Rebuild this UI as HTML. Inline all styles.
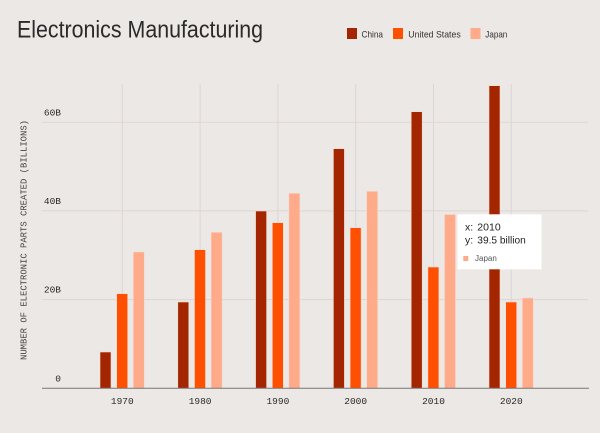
<!DOCTYPE html>
<html>
<head>
<meta charset="utf-8">
<style>
html,body{margin:0;padding:0;background:#ece8e5;}
svg{display:block;}
</style>
</head>
<body>
<svg width="600" height="433" viewBox="0 0 600 433" xmlns="http://www.w3.org/2000/svg">
  <rect x="0" y="0" width="600" height="433" fill="#ece8e5"/>

  <!-- Title -->
  <text x="17" y="37.5" font-family="Liberation Sans, sans-serif" font-size="24" fill="#2a2a2a" textLength="246" lengthAdjust="spacingAndGlyphs">Electronics Manufacturing</text>

  <!-- Legend -->
  <rect x="347" y="28" width="10" height="11" fill="#a32600"/>
  <text x="361.5" y="37.5" font-family="Liberation Sans, sans-serif" font-size="9.5" fill="#333" textLength="21.5" lengthAdjust="spacingAndGlyphs">China</text>
  <rect x="393" y="28" width="10" height="11" fill="#ff4f00"/>
  <text x="408.3" y="37.5" font-family="Liberation Sans, sans-serif" font-size="9.5" fill="#333" textLength="52.4" lengthAdjust="spacingAndGlyphs">United States</text>
  <rect x="470.5" y="28" width="10" height="11" fill="#ffab8a"/>
  <text x="485.3" y="37.5" font-family="Liberation Sans, sans-serif" font-size="9.5" fill="#333" textLength="22" lengthAdjust="spacingAndGlyphs">Japan</text>

  <!-- Vertical gridlines -->
  <g stroke="#ddd6d2" stroke-width="1">
    <line x1="122.3" y1="84" x2="122.3" y2="388"/>
    <line x1="200.1" y1="84" x2="200.1" y2="388"/>
    <line x1="277.9" y1="84" x2="277.9" y2="388"/>
    <line x1="355.7" y1="84" x2="355.7" y2="388"/>
    <line x1="433.5" y1="84" x2="433.5" y2="388"/>
    <line x1="511.3" y1="84" x2="511.3" y2="388"/>
  </g>
  <!-- Horizontal gridlines -->
  <g stroke="#ddd6d2" stroke-width="1">
    <line x1="42" y1="122.3" x2="588" y2="122.3"/>
    <line x1="42" y1="210.9" x2="588" y2="210.9"/>
    <line x1="42" y1="299.6" x2="588" y2="299.6"/>
  </g>

  <!-- Y tick labels -->
  <g font-family="Liberation Mono, monospace" font-size="9.5" fill="#2a2a2a" text-anchor="end">
    <text x="61" y="115.5">60B</text>
    <text x="61" y="204">40B</text>
    <text x="61" y="292.6">20B</text>
    <text x="61" y="381.5">0</text>
  </g>

  <!-- Y axis title -->
  <text transform="translate(26.5,240) rotate(-90)" x="0" y="0" text-anchor="middle" font-family="Liberation Mono, monospace" font-size="8.8" fill="#444" textLength="240" lengthAdjust="spacingAndGlyphs">NUMBER OF ELECTRONIC PARTS CREATED (BILLIONS)</text>

  <!-- Bars -->
  <g stroke="#f3d9cf" stroke-width="0.6">
    <!-- 1970 -->
    <rect x="100" y="352" width="11" height="36.3" fill="#a32600"/>
    <rect x="116.7" y="293.7" width="11" height="94.6" fill="#ff4f00"/>
    <rect x="133.3" y="252" width="11" height="136.3" fill="#ffab8a"/>
    <!-- 1980 -->
    <rect x="177.8" y="302" width="11" height="86.3" fill="#a32600"/>
    <rect x="194.5" y="249.7" width="11" height="138.6" fill="#ff4f00"/>
    <rect x="211.1" y="232.3" width="11" height="156" fill="#ffab8a"/>
    <!-- 1990 -->
    <rect x="255.6" y="211" width="11" height="177.3" fill="#a32600"/>
    <rect x="272.3" y="222.7" width="11" height="165.6" fill="#ff4f00"/>
    <rect x="288.9" y="193.3" width="11" height="195" fill="#ffab8a"/>
    <!-- 2000 -->
    <rect x="333.4" y="148.7" width="11" height="239.6" fill="#a32600"/>
    <rect x="350.1" y="227.7" width="11" height="160.6" fill="#ff4f00"/>
    <rect x="366.7" y="191.3" width="11" height="197" fill="#ffab8a"/>
    <!-- 2010 -->
    <rect x="411.2" y="111.7" width="11" height="276.6" fill="#a32600"/>
    <rect x="427.9" y="267" width="11" height="121.3" fill="#ff4f00"/>
    <rect x="444.5" y="214.5" width="11" height="173.8" fill="#ffab8a"/>
    <!-- 2020 -->
    <rect x="489" y="85.7" width="11" height="302.6" fill="#a32600"/>
    <rect x="505.7" y="302" width="11" height="86.3" fill="#ff4f00"/>
    <rect x="522.3" y="298" width="11" height="90.3" fill="#ffab8a"/>
  </g>

  <!-- Axis line -->
  <line x1="42" y1="388.3" x2="589" y2="388.3" stroke="#7a7674" stroke-width="1"/>

  <!-- X labels -->
  <g font-family="Liberation Mono, monospace" font-size="9.5" fill="#2a2a2a" text-anchor="middle">
    <text x="122.3" y="404">1970</text>
    <text x="200.1" y="404">1980</text>
    <text x="277.9" y="404">1990</text>
    <text x="355.7" y="404">2000</text>
    <text x="433.5" y="404">2010</text>
    <text x="511.3" y="404">2020</text>
  </g>

  <!-- Tooltip -->
  <rect x="457.5" y="214.3" width="84" height="55" fill="#ffffff"/>
  <g font-family="Liberation Sans, sans-serif" font-size="10.5" fill="#222">
    <text x="465" y="230.5">x:</text>
    <text x="477.3" y="230.5">2010</text>
    <text x="465" y="243.5">y:</text>
    <text x="477.3" y="243.5" textLength="48.5" lengthAdjust="spacingAndGlyphs">39.5 billion</text>
  </g>
  <rect x="463.3" y="256" width="5" height="5" fill="#ffab8a"/>
  <text x="475" y="261" font-family="Liberation Sans, sans-serif" font-size="8" fill="#555">Japan</text>
</svg>
</body>
</html>
